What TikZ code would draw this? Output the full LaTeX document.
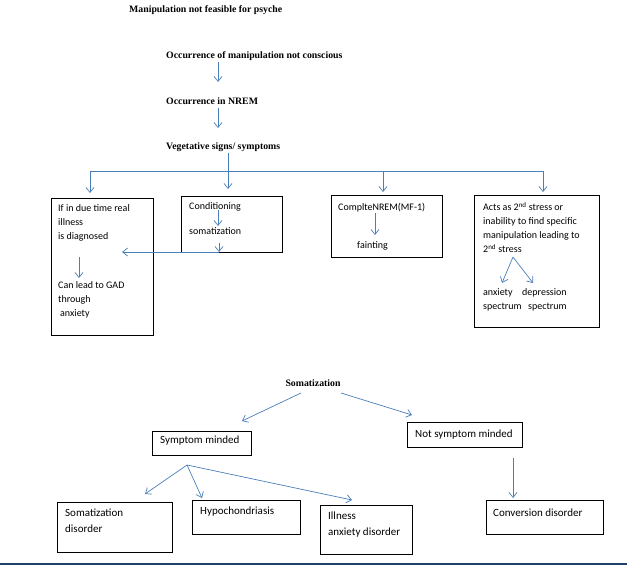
\documentclass[tikz,border=0pt]{standalone}
\usepackage{fontspec}
\setmainfont{Liberation Serif}
\newfontfamily\boxfont{Carlito}
\usetikzlibrary{arrows.meta}
\definecolor{arr}{HTML}{4A7EBB}
\definecolor{navy}{HTML}{1F3F6A}
\begin{document}
\begin{tikzpicture}[x=1pt,y=-1pt,
  box/.style={draw=black, line width=0.8pt, inner sep=0pt, anchor=north west},
  arrowline/.style={draw=arr, line width=0.7pt, -{Straight Barb[length=5pt,width=8pt]}},
  plain/.style={draw=arr, line width=0.7pt},
  ser/.style={font=\bfseries\fontsize{9.8}{12}\selectfont, anchor=base west, inner sep=0pt},
  cb/.style={font=\boxfont\fontsize{10}{14}\selectfont, anchor=north west, inner sep=0pt, align=left},
  cbl/.style={font=\boxfont\fontsize{11}{16}\selectfont, anchor=north west, inner sep=0pt, align=left},
]
\useasboundingbox (0,0) rectangle (627,565);

% top serif lines
\node[ser] (t0) at (129,12.5) {Manipulation not feasible for psyche};
\node[ser] (t1) at (166,58.5) {Occurrence of manipulation not conscious};
\node[ser] (t2) at (166,104.5) {Occurrence in NREM};
\node[ser] (t3) at (166,149.5) {Vegetative signs/ symptoms};

\coordinate (a1s) at (218,62);  \coordinate (a1e) at (218,82);
\coordinate (a2s) at (218,108); \coordinate (a2e) at (218,128);
\draw[arrowline] (a1s) -- (a1e);
\draw[arrowline] (a2s) -- (a2e);

% distribution
\coordinate (vs) at (228,153); \coordinate (ve) at (228,189);
\coordinate (hl) at (90,171);  \coordinate (hr) at (543,171);
\coordinate (hm) at (383,171);
\coordinate (d1) at (90,193); \coordinate (d3) at (383,192); \coordinate (d4) at (543,192);
\draw[arrowline] (vs) -- (ve);
\draw[plain] (hl) -- (hr);
\draw[arrowline] (hl) -- (d1);
\draw[arrowline] (hm) -- (d3);
\draw[arrowline] (hr) -- (d4);

% box 1
\node[box, minimum width=102pt, minimum height=137pt] (b1) at (51,198) {};
\node[cb] (b1a) at (58,204) {If in due time real\\illness\\is diagnosed};
\coordinate (b1s) at (79,257); \coordinate (b1e) at (79,278);
\draw[arrowline] (b1s) -- (b1e);
\node[cb] (b1b) at (58,281) {Can lead to GAD\\through\\\hspace{2pt}anxiety};

% box 2
\node[box, minimum width=101pt, minimum height=56pt] (b2) at (181,196) {};
\node[cb] (b2a) at (189,202) {Conditioning};
\coordinate (b2s) at (218,210); \coordinate (b2e) at (218,226);
\draw[arrowline] (b2s) -- (b2e);
\node[cb] (b2b) at (189,227) {somatization};
\coordinate (b2t) at (219,243); \coordinate (b2c) at (219,252); \coordinate (b2l) at (122,252);
\draw[arrowline] (b2t) -- (b2c);
\draw[arrowline] (b2c) -- (b2l);

% box 3
\node[box, minimum width=111pt, minimum height=62pt] (b3) at (331,195) {};
\node[cb] (b3a) at (338,203) {ComplteNREM(MF-1)};
\coordinate (b3s) at (375,213); \coordinate (b3e) at (375,235);
\draw[arrowline] (b3s) -- (b3e);
\node[cb] (b3b) at (357,241) {fainting};

% box 4
\node[box, minimum width=125pt, minimum height=132pt] (b4) at (474,195) {};
\node[cb] (b4a) at (483,202) {Acts as 2\textsuperscript{nd} stress or\\inability to find specific\\manipulation leading to\\2\textsuperscript{nd} stress};
\coordinate (b4s) at (513,257); \coordinate (b4l) at (502,283); \coordinate (b4r) at (533,283);
\draw[arrowline] (b4s) -- (b4l);
\draw[arrowline] (b4s) -- (b4r);
\node[cb] (b4b) at (483,288) {anxiety\\spectrum};
\node[cb] (b4c) at (522,288) {depression\\\hspace{6pt}spectrum};

% lower part
\node[font=\bfseries\fontsize{9.8}{12}\selectfont, anchor=base, inner sep=0pt] (s0) at (313,386.5) {Somatization};
\coordinate (s0l) at (301,393); \coordinate (s0r) at (341,393);
\coordinate (sme) at (242,421); \coordinate (nme) at (412,415);
\draw[arrowline] (s0l) -- (sme);
\draw[arrowline] (s0r) -- (nme);

\node[box, minimum width=99pt, minimum height=24pt] (sm) at (152,431) {};
\node[cbl] (smt) at (160,436) {Symptom minded};
\node[box, minimum width=115pt, minimum height=25pt] (nm) at (407,422) {};
\node[cbl] (nmt) at (415,429.5) {Not symptom minded};

\coordinate (nms) at (513,458); \coordinate (nme2) at (513,498);
\draw[arrowline] (nms) -- (nme2);

\coordinate (fan) at (187,465);
\coordinate (f1) at (145,494); \coordinate (f2) at (202,498); \coordinate (f3) at (352,500);
\draw[arrowline] (fan) -- (f1);
\draw[arrowline] (fan) -- (f2);
\draw[arrowline] (fan) -- (f3);

\node[box, minimum width=115pt, minimum height=50pt] (sd) at (57,502) {};
\node[cbl] (sdt) at (65,508.5) {Somatization\\disorder};
\node[box, minimum width=108pt, minimum height=34pt] (hy) at (192,500) {};
\node[cbl] (hyt) at (200,506.5) {Hypochondriasis};
\node[box, minimum width=92pt, minimum height=49pt] (il) at (320,505) {};
\node[cbl] (ilt) at (328,511.5) {Illness\\anxiety disorder};
\node[box, minimum width=117pt, minimum height=34pt] (cv) at (486,500) {};
\node[cbl] (cvt) at (493,508.5) {Conversion disorder};

\coordinate (bl) at (0,564); \coordinate (br) at (627,564);
\draw[navy, line width=1.6pt] (bl) -- (br);
\end{tikzpicture}
\end{document}
